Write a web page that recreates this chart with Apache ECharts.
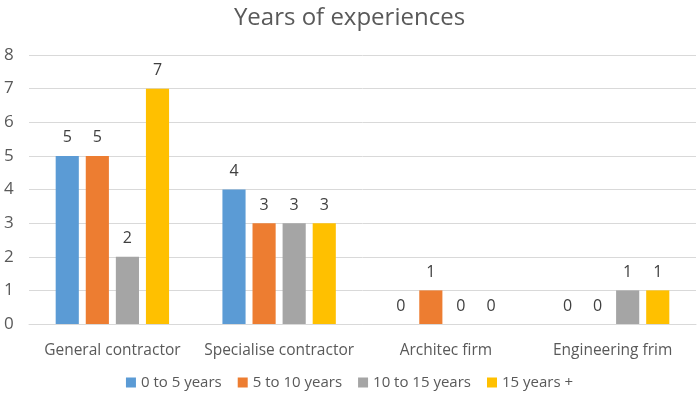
<!DOCTYPE html>
<html><head><meta charset="utf-8">
<script src="https://cdn.jsdelivr.net/npm/echarts@6/dist/echarts.min.js"></script>
<style>html,body{margin:0;padding:0;background:#fff}#c{width:699px;height:399px}</style>
</head><body><div id="c"></div>
<script>
const categories = ["General contractor", "Specialise contractor", "Architec firm", "Engineering frim"];
const seriesNames = ["0 to 5 years", "5 to 10 years", "10 to 15 years", "15 years +"];
const s0to5 = [5, 4, 0, 0];
const s5to10 = [5, 3, 1, 0];
const s10to15 = [2, 3, 0, 1];
const s15plus = [7, 3, 0, 1];
const colors = ["#5B9BD5", "#ED7D31", "#A5A5A5", "#FFC000"];
const values = [s0to5, s5to10, s10to15, s15plus];
const font = "Open Sans";
const chart = echarts.init(document.getElementById('c'));
chart.setOption({
  animation: false,
  title: {text: "Years of experiences", left: "center", top: 1,
    textStyle: {fontFamily: font, fontSize: 24, fontWeight: "normal", color: "#595959"}},
  legend: {bottom: 4, left: "center", itemWidth: 10, itemHeight: 10, itemGap: 16, icon: "rect",
    textStyle: {fontFamily: font, fontSize: 15, color: "#595959"}},
  grid: {left: 29, right: 3, top: 55, bottom: 75, containLabel: false},
  xAxis: {type: "category", data: categories,
    axisLine: {lineStyle: {color: "#D9D9D9"}}, axisTick: {show: false},
    axisLabel: {interval: 0, fontFamily: font, fontSize: 15.5, color: "#595959", margin: 19}},
  yAxis: {type: "value", min: 0, max: 8, interval: 1,
    axisLine: {show: false}, axisTick: {show: false},
    splitLine: {lineStyle: {color: "#D9D9D9"}},
    axisLabel: {fontFamily: font, fontSize: 17, color: "#595959", margin: 25, align: "left"}},
  series: seriesNames.map((n, i) => ({
    name: n, type: "bar", data: values[i], barGap: "30%", barCategoryGap: "32%",
    itemStyle: {color: colors[i]},
    label: {show: true, position: "top", distance: 10, fontFamily: font, fontSize: 16, color: "#404040"}
  }))
});
</script></body></html>
